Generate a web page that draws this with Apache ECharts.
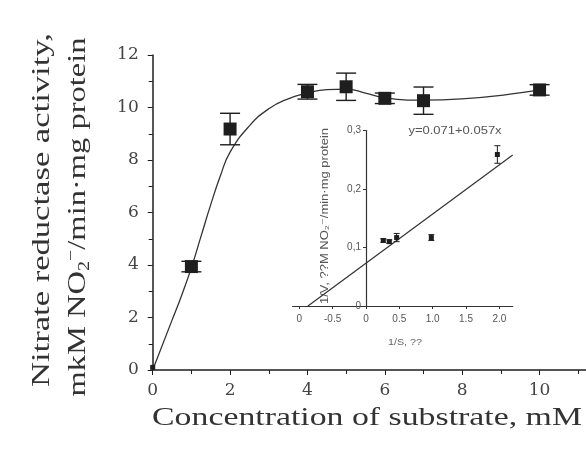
<!DOCTYPE html>
<html><head><meta charset="utf-8">
<script src="https://cdn.jsdelivr.net/npm/echarts@6/dist/echarts.min.js"></script>
<style>html,body{margin:0;padding:0;background:#fff}#c{width:586px;height:452px}</style>
</head><body><div id="c"></div>
<script>
// Main data
const mainX = [0, 1, 2, 4, 5, 6, 7, 10];
const mainY = [0.1, 3.94, 9.18, 10.6, 10.79, 10.35, 10.26, 10.67];
const mainErr = [0, 0.2, 0.6, 0.28, 0.52, 0.2, 0.52, 0.2];
// Fitted curve
const curveX = [0, 0.5, 0.75, 1, 1.25, 1.5, 1.75, 2, 2.5, 3, 3.5, 4, 4.5, 5, 5.5, 6, 7, 10];
const curveY = [0, 1.9, 2.85, 3.9, 5.1, 6.3, 7.4, 8.3, 9.3, 9.95, 10.33, 10.55, 10.68, 10.7, 10.55, 10.37, 10.28, 10.67];
// Inset (double reciprocal)
const insetX = [0.26, 0.35, 0.46, 0.98, 1.97];
const insetY = [0.112, 0.110, 0.117, 0.117, 0.259];
const insetErr = [0.003, 0.003, 0.007, 0.005, 0.015];
const insetLineX = [-0.87, 2.2];
const insetLineY = [0, 0.258];
const insetXTickValues = [-1, -0.5, 0, 0.5, 1, 1.5, 2];
const insetXTickLabels = ['0', '-0.5', '0', '0.5', '1.0', '1.5', '2.0'];
const insetYTickValues = [0, 0.1, 0.2, 0.3];
const insetYTickLabels = ['0', '0,1', '0,2', '0,3'];
const mainXTitle = 'Concentration of substrate, mM';
const mainYTitle1 = 'Nitrate reductase activity,';
const insetEquation = 'y=0.071+0.057x';
const insetXTitle = '1/S, ??';
const insetYTitle = '1/V, ??M NO\u2082\u207B/min\u00B7mg protein';

const ink = '#1e1e1e';
const serif = '"Liberation Serif","DejaVu Serif",serif';
const tickSerif = '"DejaVu Serif","Liberation Serif",serif';
const sans = '"Liberation Sans","DejaVu Sans",sans-serif';

function errBar(capW, lw) {
  return function (params, api) {
    const x = api.value(0), y = api.value(1), e = api.value(2);
    if (!e) return null;
    const top = api.coord([x, y + e]), bot = api.coord([x, y - e]);
    const st = {stroke: ink, lineWidth: lw};
    return {type: 'group', children: [
      {type: 'line', shape: {x1: top[0], y1: top[1], x2: bot[0], y2: bot[1]}, style: st},
      {type: 'line', shape: {x1: top[0] - capW/2, y1: top[1], x2: top[0] + capW/2, y2: top[1]}, style: st},
      {type: 'line', shape: {x1: bot[0] - capW/2, y1: bot[1], x2: bot[0] + capW/2, y2: bot[1]}, style: st}
    ]};
  };
}

const insetLeft = 292.6, insetWidth = 220.1, insetMin = -1.1, insetMax = 2.2;
const insetZeroOffset = (0 - insetMin) / (insetMax - insetMin) * insetWidth;

const chart = echarts.init(document.getElementById('c'), null, {renderer: 'canvas'});
chart.setOption({
  animation: false,
  backgroundColor: '#fff',
  grid: [
    {left: 152.7, top: 55, width: 433.3, height: 315, containLabel: false},
    {left: insetLeft, top: 130.5, width: insetWidth, height: 175.5, containLabel: false}
  ],
  xAxis: [
    {gridIndex: 0, type: 'value', min: 0, max: 11.2, interval: 2,
     axisLine: {lineStyle: {color: ink, width: 1.5}},
     axisTick: {show: true, length: 5, lineStyle: {color: ink}},
     minorTick: {show: true, splitNumber: 2, length: 4, lineStyle: {color: ink}},
     axisLabel: {color: '#444', fontFamily: tickSerif, fontSize: 17, margin: 12, showMaxLabel: false},
     splitLine: {show: false}},
    {gridIndex: 1, type: 'value', min: insetMin, max: insetMax,
     axisLine: {onZero: true, lineStyle: {color: '#333', width: 1.2}},
     axisTick: {show: true, length: 3, customValues: insetXTickValues, lineStyle: {color: '#333'}},
     axisLabel: {color: '#555', fontFamily: sans, fontSize: 10, margin: 8,
       customValues: insetXTickValues,
       formatter: function (v) { const i = insetXTickValues.findIndex(t => Math.abs(t - v) < 1e-6); return i >= 0 ? insetXTickLabels[i] : ''; }},
     splitLine: {show: false}}
  ],
  yAxis: [
    {gridIndex: 0, type: 'value', min: 0, max: 12, interval: 2,
     axisLine: {show: true, lineStyle: {color: ink, width: 1.5}},
     axisTick: {show: true, length: 5, lineStyle: {color: ink}},
     minorTick: {show: true, splitNumber: 2, length: 4, lineStyle: {color: ink}},
     axisLabel: {color: '#444', fontFamily: tickSerif, fontSize: 17, margin: 14},
     splitLine: {show: false}},
    {gridIndex: 1, type: 'value', min: 0, max: 0.3, offset: -insetZeroOffset,
     axisLine: {show: true, onZero: false, lineStyle: {color: '#333', width: 1.2}},
     axisTick: {show: true, length: 3, customValues: insetYTickValues, lineStyle: {color: '#333'}},
     axisLabel: {color: '#555', fontFamily: sans, fontSize: 10, margin: 5,
       customValues: insetYTickValues,
       formatter: function (v) { const i = insetYTickValues.findIndex(t => Math.abs(t - v) < 1e-6); return i >= 0 ? insetYTickLabels[i] : ''; }},
     splitLine: {show: false}}
  ],
  series: [
    {type: 'line', xAxisIndex: 0, yAxisIndex: 0, smooth: 0.5, symbol: 'none',
     lineStyle: {color: '#333', width: 1.3},
     data: curveX.map((x, i) => [x, curveY[i]]), z: 2},
    {type: 'custom', xAxisIndex: 0, yAxisIndex: 0, renderItem: errBar(20, 1.4),
     data: mainX.map((x, i) => [x, mainY[i], mainErr[i]]), z: 3},
    {type: 'scatter', xAxisIndex: 0, yAxisIndex: 0, symbol: 'rect',
     symbolSize: function (v) { return v[0] === 0 ? 5 : 13; },
     itemStyle: {color: ink, opacity: 1},
     data: mainX.map((x, i) => [x, mainY[i]]), z: 4},
    {type: 'line', xAxisIndex: 1, yAxisIndex: 1, symbol: 'none',
     lineStyle: {color: '#333', width: 1.2},
     data: insetLineX.map((x, i) => [x, insetLineY[i]]), z: 2},
    {type: 'custom', xAxisIndex: 1, yAxisIndex: 1, renderItem: errBar(6, 1),
     data: insetX.map((x, i) => [x, insetY[i], insetErr[i]]), z: 3},
    {type: 'scatter', xAxisIndex: 1, yAxisIndex: 1, symbol: 'rect', symbolSize: 5,
     itemStyle: {color: ink, opacity: 1},
     data: insetX.map((x, i) => [x, insetY[i]]), z: 4}
  ],
  graphic: [
    {type: 'text', x: 42, y: 210, rotation: Math.PI / 2, scaleX: 1.33,
     style: {text: mainYTitle1, fontFamily: serif, fontSize: 26, fill: '#333',
       align: 'center', verticalAlign: 'middle'}},
    {type: 'text', x: 78, y: 217, rotation: Math.PI / 2, scaleX: 1.25,
     style: {text: 'mkM NO{sub|2}{sup|\u2212}/min\u00B7mg protein', fontFamily: serif, fontSize: 26, fill: '#333',
       align: 'center', verticalAlign: 'middle',
       rich: {sub: {fontFamily: serif, fontSize: 16, fill: '#333', padding: [14, 0, 0, 0]},
              sup: {fontFamily: serif, fontSize: 16, fill: '#333', padding: [0, 0, 12, 0]}}}},
    {type: 'text', x: 367, y: 418, scaleX: 1.3,
     style: {text: mainXTitle, fontFamily: serif, fontSize: 26, fill: '#333',
       align: 'center', verticalAlign: 'middle'}},
    {type: 'text', x: 455, y: 131, scaleX: 1.3,
     style: {text: insetEquation, fontFamily: sans, fontSize: 10, fill: '#555',
       align: 'center', verticalAlign: 'middle'}},
    {type: 'text', x: 405, y: 343, scaleX: 1.2,
     style: {text: insetXTitle, fontFamily: sans, fontSize: 9, fill: '#666',
       align: 'center', verticalAlign: 'middle'}},
    {type: 'text', x: 325, y: 216, rotation: Math.PI / 2, scaleX: 1.3,
     style: {text: insetYTitle, fontFamily: sans, fontSize: 10, fill: '#555',
       align: 'center', verticalAlign: 'middle'}}
  ]
});
</script>
</body></html>
